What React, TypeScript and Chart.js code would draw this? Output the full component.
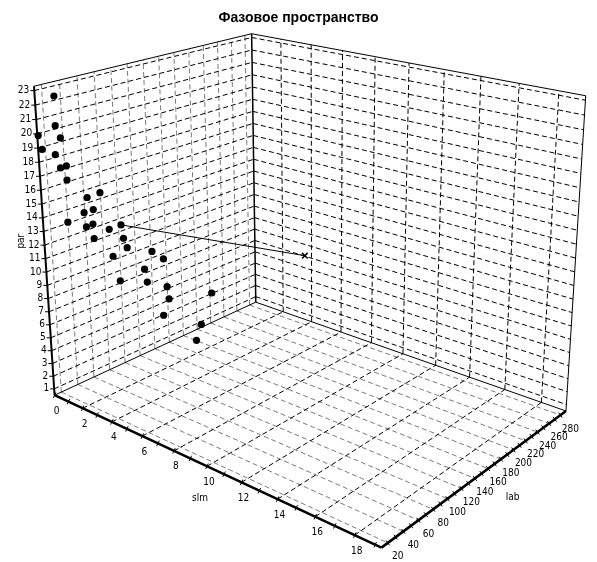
import React, { useEffect, useRef } from 'react';
import { Chart, registerables } from 'chart.js';

Chart.register(...registerables);

// ---------- texts ----------
const CHART_TITLE = 'Фазовое пространство';
const SLM_TITLE = 'slm';
const LAB_TITLE = 'lab';
const PAR_TITLE = 'par';

// ---------- axis ranges ----------
const slmRange = [0, 19.3];
const labRange = [12, 290];
const parRange = [0.5, 23.3];

// ---------- tick labels ----------
const slmTicks = [0, 2, 4, 6, 8, 10, 12, 14, 16, 18];
const slmMinorTicks = [1, 3, 5, 7, 9, 11, 13, 15, 17, 19];
const labTicks = [20, 40, 60, 80, 100, 120, 140, 160, 180, 200, 220, 240, 260, 280];
const labMinorTicks = [30, 50, 70, 90, 110, 130, 150, 170, 190, 210, 230, 250, 270];
const parTicks = [1, 2, 3, 4, 5, 6, 7, 8, 9, 10, 11, 12, 13, 14, 15, 16, 17, 18, 19, 20, 21, 22, 23];

// ---------- observations ----------
const slmValues = [0.69, 0.67, 0.03, 0.83, 0.14, 0.61, 0.77, 0.99, 0.98, 1.68, 2.16, 1.54, 1.88, 0.92, 1.59, 1.84, 2.43, 2.87, 1.86, 2.94, 3.06, 3.97, 2.52, 4.38, 3.67, 3.75, 2.75, 4.48, 6.13, 4.54, 4.31, 5.71, 5.51];
const labValues = [22.0, 21.7, 12.5, 24.0, 14.1, 20.8, 23.1, 26.2, 26.1, 36.2, 43.1, 34.1, 39.1, 25.2, 35.0, 38.5, 47.0, 53.4, 38.7, 54.4, 56.1, 69.2, 48.4, 75.1, 64.8, 66.0, 51.5, 76.5, 100.3, 77.3, 74.1, 94.2, 91.4];
const parValues = [22.65, 20.6, 19.88, 19.75, 18.91, 18.56, 17.63, 17.78, 16.77, 15.55, 15.92, 14.45, 14.69, 13.73, 13.41, 13.63, 13.28, 13.62, 12.58, 12.64, 11.96, 11.73, 11.3, 11.2, 10.4, 9.44, 9.49, 9.14, 8.75, 8.22, 6.97, 6.35, 5.12];

// vector (start -> end)
const vectorSlm = [2.87, 9.57];
const vectorLab = [53.4, 149.9];
const vectorPar = [13.62, 11.69];

// ---------- 3D camera (perspective) ----------
const CAMERA = {
  origin: [-2.0481, 1.7345, 10],
  slmDir: [0.7716, 0.1944, -0.6057],
  labDir: [0.6361, -0.2332, 0.7355],
  parDir: [0.00173, -0.9528, -0.3036],
  size: [3.0914, 2.2457, 2.38],
};
const VIEW = { cx: 326.9, cy: 164.5, focal: 1352, width: 597, height: 562 };
const TITLE_SIZE = 14;
const TITLE_PAD_TOP = 10;
const TITLE_PAD_BOTTOM = 4;
const TITLE_BLOCK = TITLE_PAD_TOP + TITLE_SIZE * 1.2 + TITLE_PAD_BOTTOM;

function project(s: number, l: number, p: number) {
  const a = ((s - slmRange[0]) / (slmRange[1] - slmRange[0])) * CAMERA.size[0];
  const b = ((l - labRange[0]) / (labRange[1] - labRange[0])) * CAMERA.size[1];
  const h = ((p - parRange[0]) / (parRange[1] - parRange[0])) * CAMERA.size[2];
  const c = [0, 1, 2].map(
    (k) => CAMERA.origin[k] + a * CAMERA.slmDir[k] + b * CAMERA.labDir[k] + h * CAMERA.parDir[k]
  );
  return { x: c[0] / c[2], y: -c[1] / c[2] };
}

type P = { x: number; y: number | null };
function addSeg(list: P[], a: number[], b: number[]) {
  const p = project(a[0], a[1], a[2]);
  const q = project(b[0], b[1], b[2]);
  list.push(p, q, { x: q.x, y: null });
}

const S0 = slmRange[0], S1 = slmRange[1];
const L0 = labRange[0], L1 = labRange[1];
const P0 = parRange[0], P1 = parRange[1];

// grid lines
const darkGrid: P[] = [];
const grayGrid: P[] = [];
slmTicks.filter((s) => s > S0).forEach((s) => {
  addSeg(darkGrid, [s, L0, P0], [s, L1, P0]); // floor
  addSeg(darkGrid, [s, L1, P0], [s, L1, P1]); // back-right wall
});
parTicks.forEach((p) => {
  addSeg(darkGrid, [S0, L0, p], [S0, L1, p]); // left wall
  addSeg(darkGrid, [S0, L1, p], [S1, L1, p]); // right wall
});
labTicks.forEach((l) => {
  addSeg(grayGrid, [S0, l, P0], [S1, l, P0]); // floor
  addSeg(grayGrid, [S0, l, P0], [S0, l, P1]); // left wall
});

// frame
const frameThin: P[] = [];
addSeg(frameThin, [S0, L0, P1], [S0, L1, P1]);
addSeg(frameThin, [S0, L1, P1], [S1, L1, P1]);
addSeg(frameThin, [S1, L1, P0], [S1, L1, P1]);
addSeg(frameThin, [S0, L0, P0], [S0, L1, P0]);
addSeg(frameThin, [S0, L1, P0], [S1, L1, P0]);
const frameBack: P[] = [];
addSeg(frameBack, [S0, L1, P0], [S0, L1, P1]);
const axesThick: P[] = [];
addSeg(axesThick, [S0, L0, P0], [S1, L0, P0]);
addSeg(axesThick, [S1, L0, P0], [S1, L1, P0]);
const parAxis: P[] = [];
addSeg(parAxis, [S0, L0, P0], [S0, L0, P1]);

const points = slmValues.map((s, i) => project(s, labValues[i], parValues[i]));
const vectorLine = vectorSlm.map((s, i) => project(s, vectorLab[i], vectorPar[i]));
const vectorEnd = [vectorLine[1]];

const LABEL_FONT = '10px "Liberation Sans Narrow", "Arial Narrow", "DejaVu Sans Condensed", "Liberation Sans", Arial, sans-serif';

const axis3dPlugin = {
  id: 'axis3d',
  afterDatasetsDraw(chart: any) {
    const { ctx, scales } = chart;
    const px = (s: number, l: number, p: number) => {
      const v = project(s, l, p);
      return { x: scales.x.getPixelForValue(v.x), y: scales.y.getPixelForValue(v.y) };
    };
    ctx.save();
    ctx.strokeStyle = '#000';
    ctx.fillStyle = '#000';
    ctx.lineWidth = 1;

    const crossTicks = (vals: number[], at: (v: number) => { x: number; y: number }, a: any, b: any, len: number) => {
      const dx = b.x - a.x, dy = b.y - a.y;
      const n = Math.hypot(dx, dy);
      const nx = -dy / n, ny = dx / n;
      ctx.beginPath();
      vals.forEach((v) => {
        const q = at(v);
        ctx.moveTo(q.x - nx * len, q.y - ny * len);
        ctx.lineTo(q.x + nx * len, q.y + ny * len);
      });
      ctx.stroke();
    };
    // slm axis ticks
    crossTicks(slmTicks.concat(slmMinorTicks), (s) => px(s, L0, P0), px(S0, L0, P0), px(S1, L0, P0), 3);
    // lab axis ticks
    crossTicks(labTicks.concat(labMinorTicks), (l) => px(S1, l, P0), px(S1, L0, P0), px(S1, L1, P0), 3);
    // par axis ticks
    ctx.beginPath();
    parTicks.forEach((p) => {
      const q = px(S0, L0, p);
      ctx.moveTo(q.x - 4, q.y);
      ctx.lineTo(q.x + 1, q.y);
    });
    ctx.stroke();

    ctx.font = LABEL_FONT;
    ctx.textAlign = 'center';
    ctx.textBaseline = 'middle';
    slmTicks.forEach((s) => {
      const q = px(s, L0, P0);
      ctx.fillText(String(s), q.x + 2, q.y + 16);
    });
    labTicks.forEach((l) => {
      const q = px(S1, l, P0);
      ctx.fillText(String(l), q.x + 10, q.y + 14);
    });
    ctx.textAlign = 'right';
    parTicks.forEach((p) => {
      const q = px(S0, L0, p);
      ctx.fillText(String(p), q.x - 5, q.y);
    });

    // axis titles
    ctx.textAlign = 'center';
    const st = px(10, L0, P0);
    ctx.fillText(SLM_TITLE, st.x - 7, st.y + 32);
    const lt = px(S1, 150, P0);
    ctx.fillText(LAB_TITLE, lt.x + 31, lt.y + 24);
    const pt = px(S0, L0, 12);
    ctx.save();
    ctx.translate(pt.x - 23, pt.y - 4);
    ctx.rotate(-Math.PI / 2);
    ctx.fillText(PAR_TITLE, 0, 0);
    ctx.restore();
    ctx.restore();
  },
};

const lineDs = (label: string, data: P[], color: string, width: number, dash: number[] = []) => ({
  label,
  data,
  showLine: true,
  borderColor: color,
  borderWidth: width,
  borderDash: dash,
  pointRadius: 0,
  fill: false,
  tension: 0,
  spanGaps: false,
  clip: false as any,
});

export default function App() {
  const ref = useRef<HTMLCanvasElement>(null);
  useEffect(() => {
    if (!ref.current) return;
    Chart.defaults.font.family = '"Liberation Sans", Arial, sans-serif';
    const chart = new Chart(ref.current, {
      type: 'scatter',
      data: {
        datasets: [
          {
            label: 'observations',
            data: points,
            pointRadius: 3.6,
            pointBackgroundColor: '#000',
            pointBorderColor: '#000',
            pointBorderWidth: 0,
            showLine: false,
            clip: false as any,
          },
          {
            label: 'vector end',
            data: vectorEnd,
            pointStyle: 'crossRot',
            pointRadius: 4,
            pointBorderColor: '#000',
            pointBorderWidth: 1.5,
            showLine: false,
            clip: false as any,
          },
          lineDs('vector', vectorLine, '#000', 1),
          lineDs('axes', axesThick, '#000', 2.6),
          lineDs('par axis', parAxis, '#000', 2),
          lineDs('frame back', frameBack, '#000', 1.5),
          lineDs('frame', frameThin, '#000', 1),
          lineDs('grid dark', darkGrid, '#000', 1, [5, 3]),
          lineDs('grid gray', grayGrid, '#7a7a7a', 1, [5, 3]),
        ],
      },
      options: {
        animation: false,
        responsive: false,
        events: [],
        layout: { padding: 0 },
        scales: {
          x: {
            type: 'linear',
            display: false,
            min: (0 - VIEW.cx) / VIEW.focal,
            max: (VIEW.width - VIEW.cx) / VIEW.focal,
          },
          y: {
            type: 'linear',
            display: false,
            min: -(VIEW.height - VIEW.cy) / VIEW.focal,
            max: -(TITLE_BLOCK - VIEW.cy) / VIEW.focal,
          },
        },
        plugins: {
          legend: { display: false },
          tooltip: { enabled: false },
          title: {
            display: true,
            text: CHART_TITLE,
            color: '#000',
            font: { size: TITLE_SIZE, weight: 'bold', family: '"Liberation Sans", Arial, sans-serif' },
            padding: { top: TITLE_PAD_TOP, bottom: TITLE_PAD_BOTTOM },
          },
        },
      },
      plugins: [axis3dPlugin],
    });
    return () => chart.destroy();
  }, []);
  return (
    <div style={{ position: 'absolute', left: 0, top: 0, width: VIEW.width, height: VIEW.height, background: '#fff' }}>
      <canvas ref={ref} width={VIEW.width} height={VIEW.height} style={{ display: 'block' }} />
    </div>
  );
}
